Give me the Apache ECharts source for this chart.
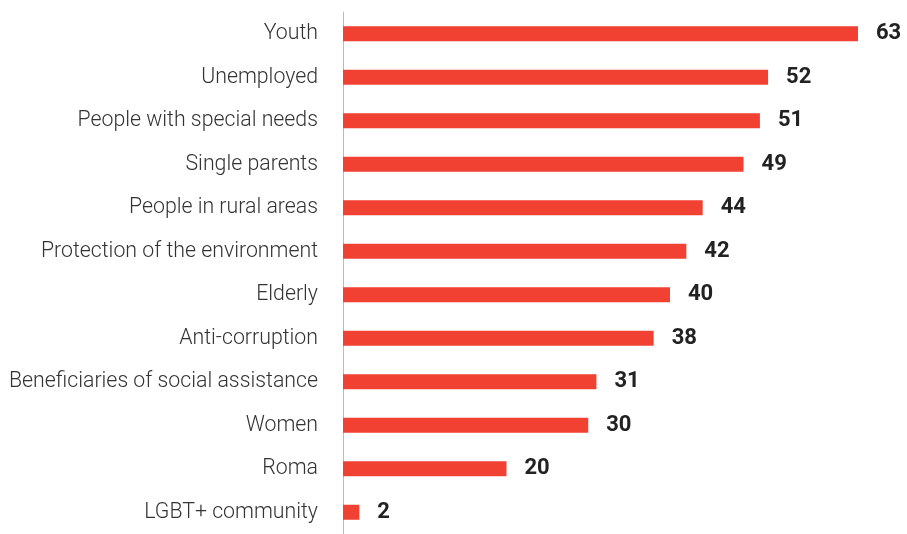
<!DOCTYPE html>
<html>
<head>
<meta charset="utf-8">
<script src="https://cdn.jsdelivr.net/npm/echarts@6/dist/echarts.min.js"></script>
<style>
html,body{margin:0;padding:0;background:#fff;}
#chart{width:907px;height:534px;}
</style>
</head>
<body>
<div id="chart"></div>
<script>
const categories = ["Youth","Unemployed","People with special needs","Single parents","People in rural areas","Protection of the environment","Elderly","Anti-corruption","Beneficiaries of social assistance","Women","Roma","LGBT+ community"];
const values = [63,52,51,49,44,42,40,38,31,30,20,2];

const chart = echarts.init(document.getElementById('chart'), null, {renderer:'canvas'});
chart.setOption({
  animation:false,
  grid:{left:343, right:49, top:12, height:526, containLabel:false},
  xAxis:{type:'value', min:0, max:63, show:false},
  yAxis:{
    type:'category', inverse:true, data:categories,
    axisLine:{show:true, lineStyle:{color:'#bbbbbb', width:1}},
    axisTick:{show:false},
    axisLabel:{margin:25, fontFamily:'Roboto', fontWeight:300, fontSize:21.3, color:'#333333', padding:[0,0,4,0]}
  },
  series:[{
    type:'bar', data:values, barWidth:15,
    itemStyle:{color:'#f04133'},
    label:{show:true, position:'right', distance:18, fontFamily:'Roboto', fontWeight:'bold', fontSize:22, color:'#222222'}
  }]
});
</script>
</body>
</html>
